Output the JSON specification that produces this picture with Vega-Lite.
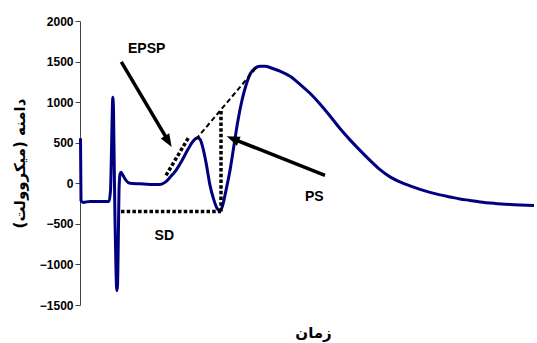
{
  "$schema": "https://vega.github.io/schema/vega-lite/v6.json",
  "width": 455,
  "height": 284,
  "autosize": {"type": "none"},
  "padding": {"left": 80, "top": 21, "right": 2, "bottom": 38},
  "background": "white",
  "config": {"view": {"stroke": null}},
  "datasets": {
    "curve": [
      {"t":0.5,"v":554},{"t":1,"v":-211},{"t":3,"v":-236},{"t":10,"v":-223},{"t":20,"v":-223},{"t":29,"v":-223},
      {"t":30.5,"v":-88},{"t":31.5,"v":406},{"t":32.3,"v":900},{"t":32.8,"v":1060},{"t":33.5,"v":900},{"t":34.3,"v":160},
      {"t":35,"v":-458},{"t":36,"v":-1075},{"t":36.8,"v":-1321},{"t":37.5,"v":-1260},{"t":38.3,"v":-705},{"t":39,"v":-88},
      {"t":40,"v":110},{"t":41,"v":135},{"t":43,"v":97},{"t":46,"v":36},{"t":50,"v":-1},{"t":60,"v":-7},{"t":70,"v":-14},
      {"t":80,"v":-14},{"t":85,"v":11},{"t":90,"v":73},{"t":96,"v":159},{"t":102,"v":282},{"t":108,"v":418},{"t":113,"v":517},
      {"t":117.5,"v":560},{"t":120,"v":542},{"t":123,"v":431},{"t":126,"v":258},{"t":130,"v":-26},{"t":134,"v":-211},
      {"t":137,"v":-309},{"t":139.5,"v":-340},{"t":142,"v":-298},{"t":146,"v":-88},{"t":150,"v":159},{"t":154,"v":468},
      {"t":158,"v":776},{"t":162,"v":1023},{"t":166,"v":1208},{"t":170,"v":1344},{"t":175,"v":1418},{"t":180,"v":1443},
      {"t":185,"v":1443},{"t":192,"v":1418},{"t":200,"v":1381},{"t":210,"v":1319},{"t":220,"v":1220},{"t":230,"v":1109},
      {"t":240,"v":978},{"t":250,"v":830},{"t":260,"v":675},{"t":270,"v":535},{"t":280,"v":406},{"t":290,"v":283},
      {"t":300,"v":168},{"t":310,"v":79},{"t":320,"v":17},{"t":330,"v":-32},{"t":340,"v":-75},{"t":350,"v":-112},
      {"t":360,"v":-143},{"t":370,"v":-168},{"t":380,"v":-193},{"t":390,"v":-211},{"t":400,"v":-230},{"t":415,"v":-248},
      {"t":430,"v":-260},{"t":454,"v":-273}
    ],
    "segs": [
      {"seg":"EPSP","kind":"dotted","t":86,"v":97},{"seg":"EPSP","kind":"dotted","t":109.3,"v":579},
      {"seg":"SD","kind":"dotted","t":41,"v":-347},{"seg":"SD","kind":"dotted","t":141,"v":-347},
      {"seg":"PS","kind":"dotted","t":141,"v":-347},{"seg":"PS","kind":"dotted","t":141,"v":899},
      {"seg":"slope","kind":"dashed","t":116,"v":542},{"seg":"slope","kind":"dashed","t":177,"v":1434},
      {"seg":"a1","kind":"arrow","t":41.3,"v":1496},{"seg":"a1","kind":"arrow","t":87.6,"v":534},
      {"seg":"a2","kind":"arrow","t":245,"v":97},{"seg":"a2","kind":"arrow","t":154.1,"v":542}
    ],
    "heads": [
      {"name":"a1","t":91.7,"v":447},
      {"name":"a2","t":146.7,"v":579}
    ],
    "labels": [
      {"text":"EPSP","t":66.7,"v":1649},
      {"text":"SD","t":84.3,"v":-655},
      {"text":"PS","t":234.3,"v":-170}
    ]
  },
  "layer": [
    {
      "data": {"name": "curve"},
      "mark": {"type": "line", "color": "#000080", "strokeWidth": 3, "strokeJoin": "round", "interpolate": "monotone"},
      "encoding": {
        "x": {"field": "t", "type": "quantitative", "scale": {"domain": [0, 455], "nice": false, "zero": false},
          "axis": {"title": "زمان", "labels": false, "ticks": false, "domain": false, "grid": false, "titleX": 233,
            "titleFont": "DejaVu Sans", "titleFontSize": 15, "titleFontWeight": "bold", "titleColor": "#000", "titlePadding": 20}},
        "y": {"field": "v", "type": "quantitative", "scale": {"domain": [-1500, 2000], "nice": false, "zero": false},
          "axis": {"title": "دامنه (میکروولت)", "values": [-1500,-1000,-500,0,500,1000,1500,2000], "format": "d", "grid": false,
            "labelFont": "Liberation Sans", "labelFontSize": 12, "labelFontWeight": "bold", "labelColor": "#000", "labelPadding": 2,
            "tickSize": 5, "tickColor": "#444", "domainColor": "#444",
            "titleFont": "DejaVu Sans", "titleFontSize": 15, "titleFontWeight": "bold", "titleColor": "#000", "titlePadding": 12}}
      }
    },
    {
      "data": {"name": "segs"},
      "transform": [{"filter": "datum.kind === 'dotted'"}],
      "mark": {"type": "line", "color": "#000", "strokeWidth": 3.5, "strokeDash": [3.5, 2.2], "strokeCap": "butt"},
      "encoding": {
        "x": {"field": "t", "type": "quantitative"},
        "y": {"field": "v", "type": "quantitative"},
        "detail": {"field": "seg"}
      }
    },
    {
      "data": {"name": "segs"},
      "transform": [{"filter": "datum.kind === 'dashed'"}],
      "mark": {"type": "line", "color": "#000", "strokeWidth": 2, "strokeDash": [5, 3]},
      "encoding": {
        "x": {"field": "t", "type": "quantitative"},
        "y": {"field": "v", "type": "quantitative"},
        "detail": {"field": "seg"}
      }
    },
    {
      "data": {"name": "segs"},
      "transform": [{"filter": "datum.kind === 'arrow'"}],
      "mark": {"type": "line", "color": "#000", "strokeWidth": 3.5},
      "encoding": {
        "x": {"field": "t", "type": "quantitative"},
        "y": {"field": "v", "type": "quantitative"},
        "detail": {"field": "seg"}
      }
    },
    {
      "data": {"name": "heads"},
      "transform": [{"filter": "datum.name === 'a1'"}],
      "mark": {"type": "point", "shape": "M0,0L-0.75,2L0.75,2Z", "filled": true, "color": "#000", "opacity": 1, "size": 169, "angle": 149},
      "encoding": {
        "x": {"field": "t", "type": "quantitative"},
        "y": {"field": "v", "type": "quantitative"}
      }
    },
    {
      "data": {"name": "heads"},
      "transform": [{"filter": "datum.name === 'a2'"}],
      "mark": {"type": "point", "shape": "M0,0L-0.75,2L0.75,2Z", "filled": true, "color": "#000", "opacity": 1, "size": 169, "angle": 292},
      "encoding": {
        "x": {"field": "t", "type": "quantitative"},
        "y": {"field": "v", "type": "quantitative"}
      }
    },
    {
      "data": {"name": "labels"},
      "mark": {"type": "text", "font": "Liberation Sans", "fontSize": 14, "fontWeight": "bold", "color": "#000", "align": "center", "baseline": "middle"},
      "encoding": {
        "x": {"field": "t", "type": "quantitative"},
        "y": {"field": "v", "type": "quantitative"},
        "text": {"field": "text"}
      }
    }
  ]
}
